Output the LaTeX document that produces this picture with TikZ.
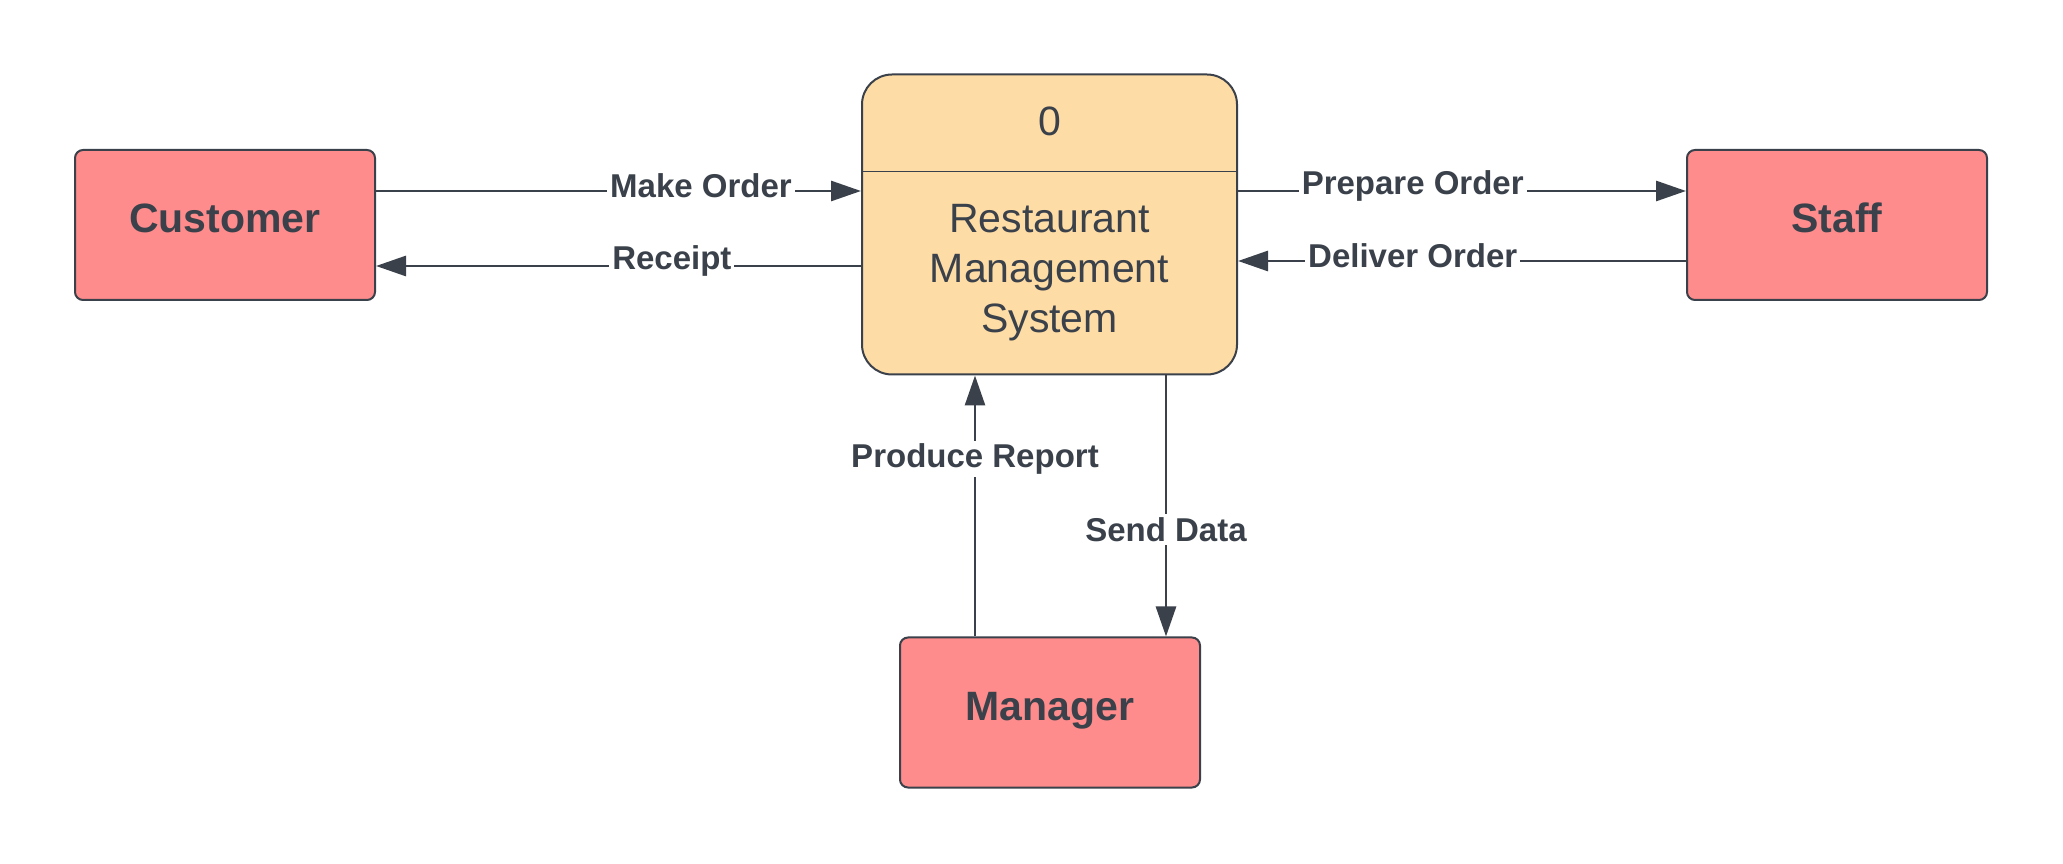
\documentclass[tikz,border=0pt]{standalone}
\usepackage{fontspec}
\setmainfont{Liberation Sans}
\usetikzlibrary{arrows.meta}
\definecolor{ink}{HTML}{3A414A}
\definecolor{entityfill}{HTML}{FF8C8C}
\definecolor{procfill}{HTML}{FEDCA5}

\begin{document}
\begin{tikzpicture}[x=0.5pt, y=0.5pt,
  entity/.style = {draw=ink, line width=1pt, fill=entityfill, rounded corners=4pt, minimum width=150pt, minimum height=75pt, text height=15pt, text depth=7pt, text=ink, font=\fontsize{20.5}{24}\selectfont\bfseries},
  process/.style = {draw=ink, line width=1pt, fill=procfill, rounded corners=15pt, minimum width=187.5pt, minimum height=150pt},
  ptext/.style = {text=ink, align=center, font=\fontsize{20.5}{25}\selectfont},
  flow/.style = {draw=ink, line width=1.4pt, -{Triangle[length=15pt, width=10pt]}},
  lbl/.style = {fill=white, text=ink, inner sep=1.5pt, font=\fontsize{16.5}{20}\selectfont\bfseries},
  hlbl/.style = {lbl, yshift=2.5pt}]
\useasboundingbox (0,0) rectangle (2063,863);
\node[entity] (cust) at (225,638) {Customer};
\node[entity] (staff) at (1837,638) {Staff};
\node[entity] (mgr) at (1050,150.5) {Manager};
\node[process] (sys) at (1049.5,638.5) {};
\node[ptext] (num) at (1049.5,742) {0};
\node[ptext] (name) at (1049.5,590) {Restaurant\\Management\\System};
\draw[ink, line width=0.6pt] ([yshift=-49pt]sys.north west) -- ([yshift=-49pt]sys.north east);
\draw[flow] ([yshift=17pt]cust.east) -- ([yshift=17pt]cust.east -| sys.west) node[hlbl, pos=.67]{Make Order};
\draw[flow] ([yshift=-20.5pt]cust.east -| sys.west) -- ([yshift=-20.5pt]cust.east) node[hlbl, pos=.39]{Receipt};
\draw[flow] ([yshift=17pt]staff.west -| sys.east) -- ([yshift=17pt]staff.west) node[hlbl, pos=.39]{Prepare Order};
\draw[flow] ([yshift=-18pt]staff.west) -- ([yshift=-18pt]staff.west -| sys.east) node[hlbl, pos=.61]{Deliver Order};
\draw[flow] ([xshift=-37.5pt]mgr.north) -- ([xshift=-37.5pt]mgr.north |- sys.south) node[lbl, pos=.68]{Produce Report};
\draw[flow] ([xshift=58pt]mgr.north |- sys.south) -- ([xshift=58pt]mgr.north) node[lbl, pos=.59]{Send Data};
\end{tikzpicture}
\end{document}
